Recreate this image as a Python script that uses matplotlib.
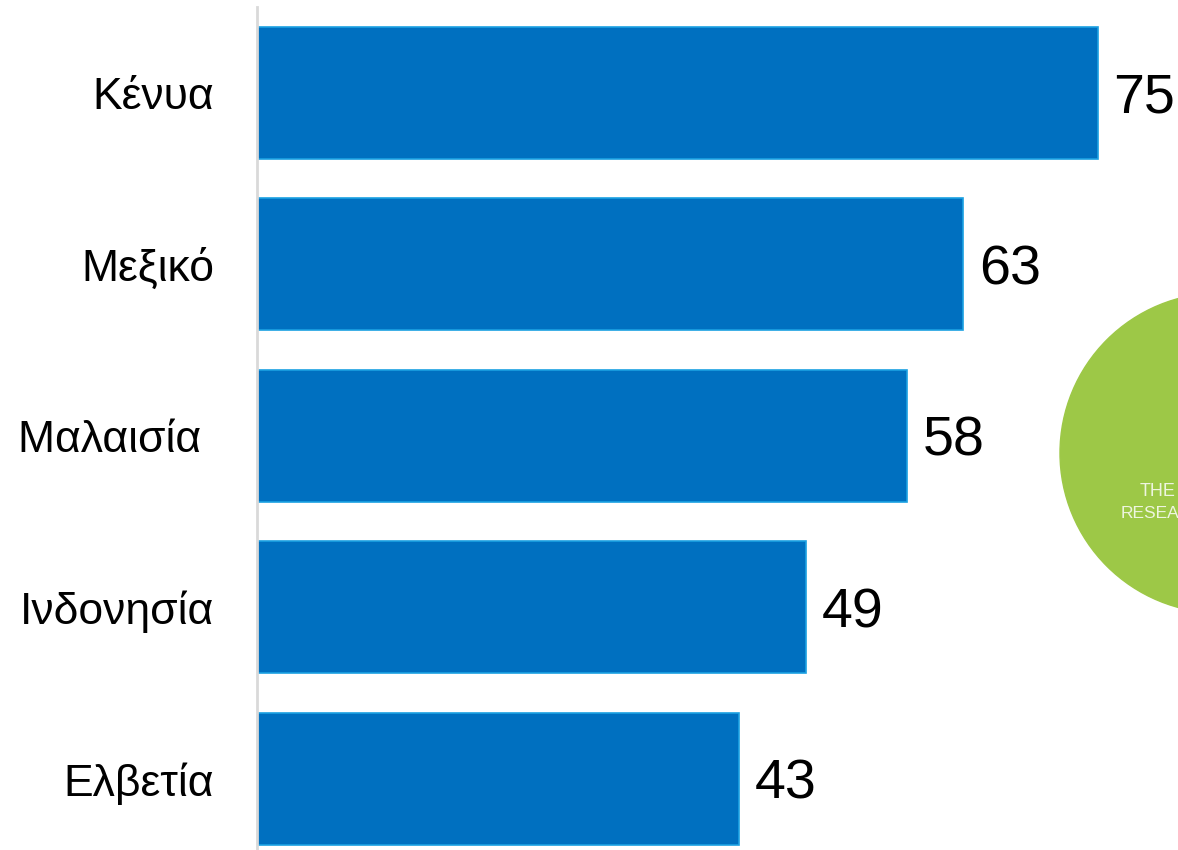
import matplotlib.pyplot as plt
from matplotlib.patches import Ellipse

countries = ["Κένυα", "Μεξικό", "Μαλαισία ", "Ινδονησία", "Ελβετία"]
values = [75, 63, 58, 49, 43]

plt.rcParams['font.family'] = ['Liberation Sans', 'DejaVu Sans']

W, H = 1178, 850
fig = plt.figure(figsize=(W / 100, H / 100), dpi=100)

# faded logo behind the chart, cut by the right edge
logo = Ellipse((1220 / W, 1 - 453 / H), 2 * 160 / W, 2 * 160 / H,
               transform=fig.transFigure, color="#9dc847", zorder=0)
fig.patches.append(logo)
fig.text(1140 / W, 1 - 491 / H, "THE", color="#eef5e0", fontsize=13, va="center", zorder=1)
fig.text(1121 / W, 1 - 514 / H, "RESEA", color="#eef5e0", fontsize=12.5, va="center", zorder=1)

ax = fig.add_axes([257 / W, 0, 1 - 257 / W, 843 / H])
ax.set_zorder(2)
ax.patch.set_visible(False)

y = range(len(countries))
ax.barh(y, values, height=0.77, color="#0070c0", edgecolor="#1ba1e2", linewidth=1.2)

for i, v in enumerate(values):
    ax.text(v + 1.4, i, str(v), va="center_baseline", ha="left", fontsize=40, color="black")

ax.set_xlim(0, (W - 257) / 11.21)
ax.set_ylim(4.414, -0.5)
ax.set_yticks(list(y))
ax.set_yticklabels(countries, fontsize=32)
ax.tick_params(axis="y", length=0, pad=31)
ax.set_xticks([])

for s in ["top", "right", "bottom"]:
    ax.spines[s].set_visible(False)
ax.spines["left"].set_color("#d9d9d9")
ax.spines["left"].set_linewidth(2)

fig.savefig("out.png", dpi=100)
